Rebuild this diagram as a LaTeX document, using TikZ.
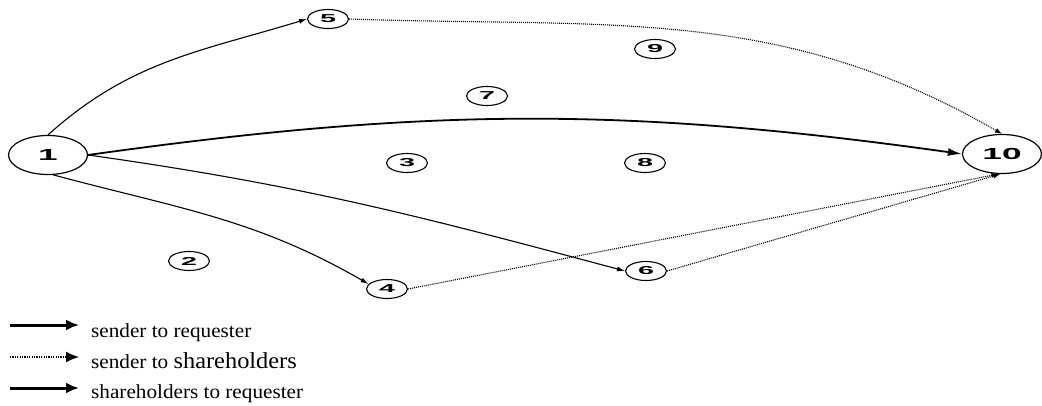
\documentclass[tikz,border=0pt]{standalone}
\usepackage{fontspec}
\setmainfont{Liberation Serif}
\newfontfamily\lblfont{Liberation Sans}
\usetikzlibrary{shapes.geometric,arrows.meta}
\newcommand{\wide}[2]{\scalebox{#1}[1]{#2}}
\tikzset{
 bignode/.style={ellipse,draw,line width=1.2pt,minimum width=79pt,minimum height=39pt,inner sep=0pt,font=\lblfont\bfseries\fontsize{16}{16}\selectfont},
 smallnode/.style={ellipse,draw,line width=1.1pt,minimum width=41pt,minimum height=19pt,inner sep=0pt,font=\lblfont\bfseries\fontsize{11.5}{11.5}\selectfont},
 solidedge/.style={line width=1.1pt,-{Latex[length=8pt,width=5pt]}},
 thickedge/.style={line width=1.8pt,-{Latex[length=14pt,width=8pt]}},
 dotedge/.style={line width=1.1pt,dash pattern=on 1pt off 1pt,-{Latex[length=7pt,width=5pt]}},
 legsolid/.style={line width=3pt,-{Latex[length=13pt,width=11pt]}},
 legdot/.style={line width=1.6pt,dash pattern=on 1.2pt off 1.2pt,-{Latex[length=13pt,width=11pt]}},
 legtext/.style={anchor=base west,inner sep=0pt,font=\fontsize{20}{20}\selectfont}
}
\begin{document}
\begin{tikzpicture}[x=1pt,y=1pt]
\useasboundingbox (0,0) rectangle (1042,405);
% nodes
\node[bignode] (n1) at (48,250) {\wide{2.2}{1}};
\node[bignode] (n10) at (1002,251) {\wide{2.2}{10}};
\node[smallnode] (n5) at (328,386) {\wide{2.5}{5}};
\node[smallnode] (n9) at (655,356) {\wide{2.5}{9}};
\node[smallnode] (n7) at (487,309) {\wide{2.5}{7}};
\node[smallnode] (n3) at (407,242) {\wide{2.5}{3}};
\node[smallnode] (n8) at (645,242) {\wide{2.5}{8}};
\node[smallnode] (n2) at (189,144) {\wide{2.5}{2}};
\node[smallnode] (n4) at (387,116) {\wide{2.5}{4}};
\node[smallnode] (n6) at (646,134) {\wide{2.5}{6}};
% edges
\draw[solidedge] (n1.north) to[out=42,in=197] (n5.west);
\draw[thickedge] (n1.east) to[out=8,in=172] (n10.west);
\draw[dotedge] (n5.east) to[out=-2,in=150] (n10.north);
\draw[solidedge] (n1.east) to[out=-8,in=165] (n6.west);
\draw[solidedge] (n1.-75) to[out=-15,in=150] (n4.165);
\draw[dotedge] (n4.east) -- (n10.-100);
\draw[dotedge] (n6.east) -- (n10.-95);
% legend
\coordinate (l1s) at (10,80); \coordinate (l1e) at (79,80);
\coordinate (l2s) at (10,48); \coordinate (l2e) at (79,48);
\coordinate (l3s) at (10,17); \coordinate (l3e) at (79,17);
\draw[legsolid] (l1s) -- (l1e);
\draw[legdot] (l2s) -- (l2e);
\draw[legsolid] (l3s) -- (l3e);
\node[legtext] (t1) at (91,68) {\wide{1.06}{sender to requester}};
\node[legtext] (t2) at (91,37) {\wide{1.06}{sender to {\fontsize{23}{23}\selectfont shareholders}}};
\node[legtext] (t3) at (91,7) {\wide{1.06}{shareholders to requester}};
\end{tikzpicture}
\end{document}
